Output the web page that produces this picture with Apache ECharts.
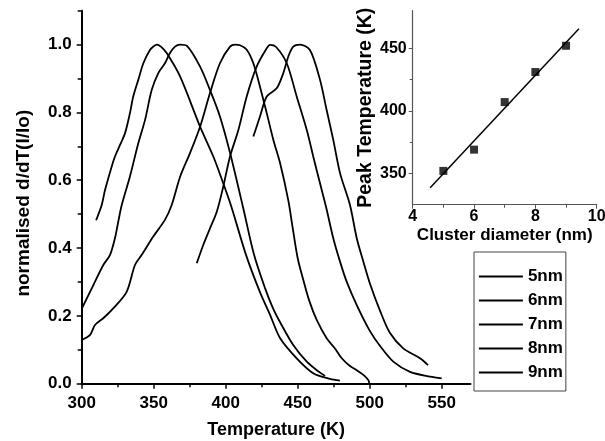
<!DOCTYPE html>
<html><head><meta charset="utf-8">
<script src="https://cdn.jsdelivr.net/npm/echarts@6/dist/echarts.min.js"></script>
<style>html,body{margin:0;padding:0;background:#fff}#c{width:605px;height:441px}</style>
</head><body><div id="c"></div>
<script>
const seriesNames = ['5nm', '6nm', '7nm', '8nm', '9nm'];

const t5 = [310, 313.9, 316.2, 320.8, 323.1, 326.6, 330.1, 333.5, 335.8, 339.3, 342.8, 347.4, 350, 352.1, 355, 359, 368.3, 382.2, 391.4, 398.3, 404, 414.1, 423.8, 430.8, 437.7, 449.3, 460.8, 472.4, 479.3];
const s5 = [0.482, 0.527, 0.571, 0.640, 0.670, 0.704, 0.739, 0.798, 0.847, 0.896, 0.945, 0.984, 0.995, 1.0, 0.994, 0.975, 0.906, 0.758, 0.670, 0.591, 0.521, 0.380, 0.270, 0.203, 0.135, 0.075, 0.031, 0.014, 0.009];

const t6 = [300, 308.1, 315, 319.7, 323.1, 325.4, 327.8, 333.5, 339.3, 344, 348.6, 353.2, 357.8, 361.3, 364.8, 368.3, 373.1, 382.2, 389.1, 396, 403, 412, 419.7, 427.3, 432.8, 437.7, 446.9, 456.3, 464.1, 469];
const s6 = [0.221, 0.291, 0.350, 0.380, 0.429, 0.478, 0.527, 0.611, 0.709, 0.778, 0.866, 0.916, 0.945, 0.975, 0.994, 1.0, 0.996, 0.935, 0.866, 0.788, 0.681, 0.521, 0.380, 0.282, 0.223, 0.182, 0.114, 0.065, 0.037, 0.023];

const t7 = [300, 305.8, 309.2, 315, 321.9, 331.2, 337, 341.7, 349.7, 357.8, 362.5, 368.4, 375.2, 382.2, 389.1, 396, 403, 406.5, 410, 414.6, 419.2, 423.8, 428.5, 433.1, 437.8, 443.5, 446.5, 450, 453.9, 458, 463.2, 470.1, 475.9, 480.6, 486.3, 491, 495.6, 499, 499.7];
const s7 = [0.129, 0.144, 0.173, 0.193, 0.222, 0.271, 0.350, 0.380, 0.434, 0.483, 0.527, 0.611, 0.680, 0.758, 0.857, 0.945, 0.994, 1.0, 0.998, 0.985, 0.945, 0.876, 0.798, 0.719, 0.650, 0.540, 0.460, 0.370, 0.306, 0.245, 0.188, 0.134, 0.104, 0.075, 0.052, 0.040, 0.026, 0.011, 0.002];

const t8 = [379.9, 384.4, 389.1, 393.8, 398.3, 403, 408.8, 414.6, 421.5, 428.5, 430.8, 435, 442.4, 449.3, 456.3, 460.8, 465.5, 469.7, 474.7, 479.4, 484, 491, 500.2, 507.2, 516.4, 528, 541.9, 550];
const s8 = [0.355, 0.409, 0.458, 0.507, 0.581, 0.670, 0.748, 0.847, 0.935, 0.989, 0.999, 0.993, 0.945, 0.847, 0.748, 0.670, 0.591, 0.521, 0.429, 0.360, 0.301, 0.232, 0.155, 0.111, 0.065, 0.035, 0.021, 0.016];

const t9 = [419.2, 423.8, 428.5, 435.4, 440, 443.5, 446.9, 451.6, 458.5, 465.5, 470.1, 474.7, 479.4, 486.3, 491, 495.6, 500.2, 507.2, 514, 523.3, 534.9, 540.5];
const s9 = [0.729, 0.788, 0.847, 0.871, 0.916, 0.965, 0.994, 1.0, 0.984, 0.896, 0.807, 0.719, 0.621, 0.527, 0.429, 0.36, 0.295, 0.215, 0.150, 0.104, 0.075, 0.055];

const diameters = [5, 6, 7, 8, 9];
const peakTemps = [352, 369, 407, 431, 452];
const fitX = [4.57, 9.42];
const fitY = [338.5, 465.6];

const xTicksMain = [300, 350, 400, 450, 500, 550];
const xMinorMain = [325, 375, 425, 475, 525];
const yTicksMain = [0, 0.2, 0.4, 0.6, 0.8, 1.0];
const yMinorMain = [0.1, 0.3, 0.5, 0.7, 0.9, 1.1];
const xTicksInset = [4, 6, 8, 10];
const xMinorInset = [5, 7, 9];
const yTicksInset = [350, 400, 450];
const yMinorInset = [375, 425];

const FONT = '"Liberation Sans", Arial, sans-serif';
const zip = (a, b) => a.map((v, i) => [v, b[i]]);
const curves = [[t5, s5], [t6, s6], [t7, s7], [t8, s8], [t9, s9]];

const chart = echarts.init(document.getElementById('c'), null, { renderer: 'canvas' });

function axis(opts) {
  return Object.assign({
    type: 'value',
    splitLine: { show: false },
    axisLine: { show: true, onZero: false, lineStyle: { color: '#000', width: 2 } },
    axisTick: { show: true, inside: false, length: 5, lineStyle: { color: '#000', width: 1.5 } },
    axisLabel: { show: true, color: '#000', fontFamily: FONT, fontWeight: 'bold', fontSize: 17 }
  }, opts);
}

const option = {
  animation: false,
  backgroundColor: '#fff',
  grid: [
    { left: 81.7, top: 10.7, right: 134.5, bottom: 57.3, containLabel: false, outerBoundsMode: 'none' },
    { left: 412.7, top: 10.7, right: 8.3, bottom: 236.3, containLabel: false, outerBoundsMode: 'none' }
  ],
  legend: {
    data: seriesNames,
    orient: 'vertical',
    left: 474, top: 252,
    padding: [16, 3, 10, 4],
    itemWidth: 44, itemHeight: 14, itemGap: 7,
    itemStyle: { opacity: 0 },
    lineStyle: { color: '#000', width: 1.8 },
    borderColor: '#444', borderWidth: 1, backgroundColor: '#fff',
    textStyle: { fontFamily: FONT, fontWeight: 'bold', fontSize: 17, color: '#000' }
  },
  xAxis: [
    axis({ gridIndex: 0, min: 300, max: 570, position: 'bottom',
      axisTick: { show: true, length: 5, customValues: xTicksMain, lineStyle: { color: '#000', width: 1.5 } },
      axisLabel: { customValues: xTicksMain, margin: 11, color: '#000', fontFamily: FONT, fontWeight: 'bold', fontSize: 17 },
      name: 'Temperature (K)', nameLocation: 'middle', nameGap: 37,
      nameTextStyle: { fontFamily: FONT, fontWeight: 'bold', fontSize: 18, color: '#000' } }),
    axis({ gridIndex: 0, min: 300, max: 570, position: 'bottom', offset: 0, axisLine: { show: false },
      axisTick: { show: true, length: 3.5, customValues: xMinorMain, lineStyle: { color: '#000', width: 1.5 } },
      axisLabel: { show: false } }),
    axis({ gridIndex: 1, min: 4, max: 10, position: 'bottom',
      axisLine: { show: true, onZero: false, lineStyle: { color: '#555', width: 1.2 } },
      axisTick: { show: true, length: 4, customValues: xTicksInset, lineStyle: { color: '#555', width: 1 } },
      axisLabel: { customValues: xTicksInset, margin: 4, color: '#000', fontFamily: FONT, fontWeight: 'bold', fontSize: 16 },
      name: 'Cluster diameter (nm)', nameLocation: 'middle', nameGap: 22,
      nameTextStyle: { fontFamily: FONT, fontWeight: 'bold', fontSize: 17, color: '#000' } }),
    axis({ gridIndex: 1, min: 4, max: 10, position: 'bottom', offset: 0, axisLine: { show: false },
      axisTick: { show: true, length: 3, customValues: xMinorInset, lineStyle: { color: '#555', width: 1 } },
      axisLabel: { show: false } })
  ],
  yAxis: [
    axis({ gridIndex: 0, min: 0, max: 1.1, position: 'left',
      axisTick: { show: true, length: 5, customValues: yTicksMain, lineStyle: { color: '#000', width: 1.5 } },
      axisLabel: { customValues: yTicksMain, margin: 10, formatter: v => v.toFixed(1), color: '#000', fontFamily: FONT, fontWeight: 'bold', fontSize: 17 },
      name: 'normalised d/dT(I/Io)', nameLocation: 'middle', nameGap: 48, nameRotate: 90,
      nameTextStyle: { fontFamily: FONT, fontWeight: 'bold', fontSize: 19, color: '#000', padding: [0, 12, 0, 0] } }),
    axis({ gridIndex: 0, min: 0, max: 1.1, position: 'left', offset: 0, axisLine: { show: false },
      axisTick: { show: true, length: 4, customValues: yMinorMain, lineStyle: { color: '#000', width: 1.5 } },
      axisLabel: { show: false } }),
    axis({ gridIndex: 1, min: 325, max: 480, position: 'left',
      axisLine: { show: true, onZero: false, lineStyle: { color: '#555', width: 1.2 } },
      axisTick: { show: true, length: 4, customValues: yTicksInset, lineStyle: { color: '#555', width: 1 } },
      axisLabel: { customValues: yTicksInset, margin: 6, color: '#000', fontFamily: FONT, fontWeight: 'bold', fontSize: 16 },
      name: 'Peak Temperature (K)', nameLocation: 'middle', nameGap: 27, nameRotate: 90,
      nameTextStyle: { fontFamily: FONT, fontWeight: 'bold', fontSize: 19.5, color: '#000' } }),
    axis({ gridIndex: 1, min: 325, max: 480, position: 'left', offset: 0, axisLine: { show: false },
      axisTick: { show: true, length: 3, customValues: yMinorInset, lineStyle: { color: '#555', width: 1 } },
      axisLabel: { show: false } })
  ],
  series: curves.map((c, i) => ({
    name: seriesNames[i],
    type: 'line',
    xAxisIndex: 0, yAxisIndex: 0,
    data: zip(c[0], c[1]),
    symbol: 'none',
    smooth: 0.3,
    lineStyle: { color: '#000', width: 1.8 },
    itemStyle: { color: '#000' }
  })).concat([
    {
      name: 'fit', type: 'line', xAxisIndex: 2, yAxisIndex: 2,
      data: zip(fitX, fitY), symbol: 'none',
      lineStyle: { color: '#000', width: 1.5 }
    },
    {
      name: 'peaks', type: 'scatter', xAxisIndex: 2, yAxisIndex: 2,
      data: zip(diameters, peakTemps), symbol: 'rect', symbolSize: 8,
      itemStyle: { color: '#000' }
    }
  ])
};
chart.setOption(option);
</script>
</body></html>
